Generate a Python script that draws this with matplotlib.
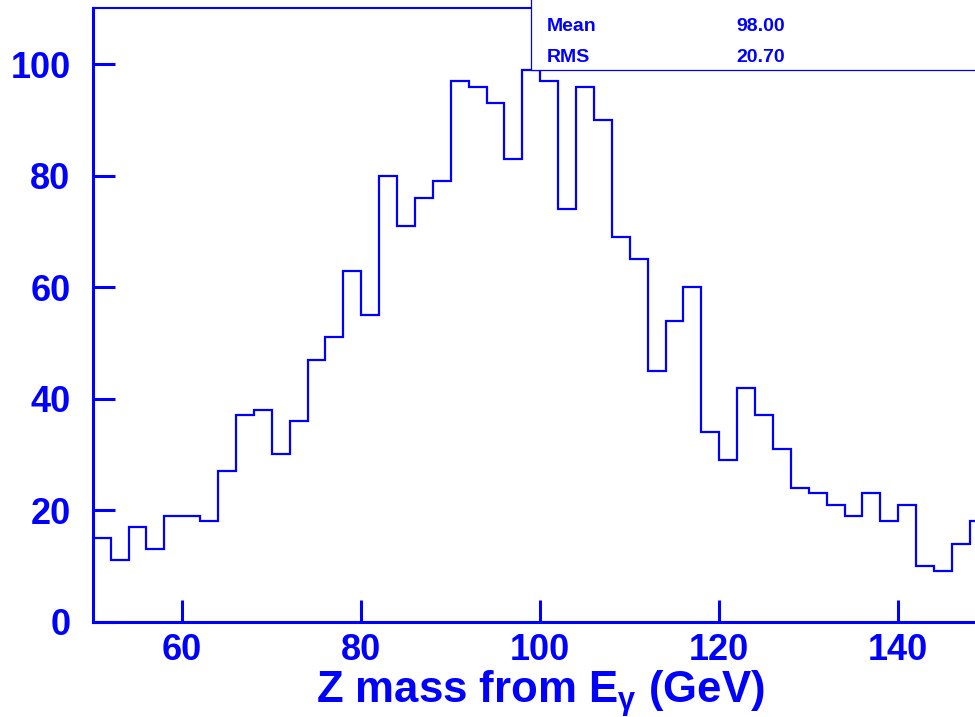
import matplotlib
matplotlib.use("Agg")
import matplotlib.pyplot as plt
import numpy as np
from matplotlib.patches import Rectangle

# 2 GeV bins from 50 to 150
bin_edges = np.arange(50, 152, 2)
counts = [15, 11, 17, 13, 19, 19, 18, 27, 37, 38,
          30, 36, 47, 51, 63, 55, 80, 71, 76, 79,
          97, 96, 93, 83, 99, 97, 74, 96, 90, 69,
          65, 45, 54, 60, 34, 29, 42, 37, 31, 24,
          23, 21, 19, 23, 18, 21, 10, 9, 14, 18]
xticks = [60, 80, 100, 120, 140]
yticks = [0, 20, 40, 60, 80, 100]
stat_names = ["Mean", "RMS"]
stat_values = ["98.00", "20.70"]

BLUE = "#0000ff"
plt.rcParams["font.family"] = ["Liberation Sans", "DejaVu Sans"]
plt.rcParams["font.weight"] = "bold"
plt.rcParams["mathtext.fontset"] = "custom"
plt.rcParams["mathtext.rm"] = "Liberation Sans:bold"
plt.rcParams["mathtext.it"] = "Liberation Sans:bold"
plt.rcParams["mathtext.bf"] = "Liberation Sans:bold"
plt.rcParams["mathtext.sf"] = "Liberation Sans"

fig = plt.figure(figsize=(9.75, 7.17), dpi=100)
ax = fig.add_axes([0.0951, 0.1331, 0.918, 0.8555])

ax.stairs(counts, bin_edges, color=BLUE, linewidth=1.6, baseline=None)

ax.set_xlim(50, 150)
ax.set_ylim(0, 110.1)
ax.set_xticks(xticks)
ax.set_yticks(yticks)
ax.tick_params(axis="both", direction="in", length=15.5, width=2.2, color=BLUE,
               labelcolor=BLUE, labelsize=26, top=False, right=False)
ax.tick_params(axis="y", pad=16)
ax.tick_params(axis="x", pad=8)
for lab in ax.get_xticklabels() + ax.get_yticklabels():
    lab.set_fontweight("bold")

for side in ["left", "bottom"]:
    ax.spines[side].set_color(BLUE)
    ax.spines[side].set_linewidth(2.2)
ax.spines["top"].set_color(BLUE)
ax.spines["top"].set_linewidth(1.5)
ax.spines["right"].set_color(BLUE)

ax.set_xlabel(r"Z mass from E$_\mathsf{\gamma}$ (GeV)", fontsize=31.5,
              fontweight="bold", color=BLUE, labelpad=0)

# stats box in the top right corner
ax.add_patch(Rectangle((0.4897, 0.900), 0.6, 0.2, transform=ax.transAxes,
                       facecolor="white", edgecolor=BLUE, linewidth=0.9,
                       zorder=5, clip_on=False))
for i, (name, val) in enumerate(zip(stat_names, stat_values)):
    yy = 0.962 - i * 0.050
    ax.text(0.5073, yy, name, transform=ax.transAxes, color=BLUE, fontsize=14,
            fontweight="bold", va="baseline", ha="left", zorder=6)
    ax.text(0.7196, yy, val, transform=ax.transAxes, color=BLUE, fontsize=14,
            fontweight="bold", va="baseline", ha="left", zorder=6)

fig.savefig("out.png", dpi=100)
